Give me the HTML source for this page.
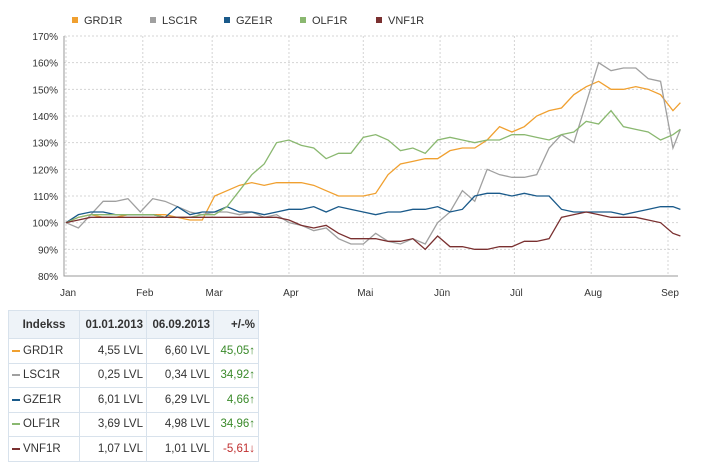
<!DOCTYPE html>
<html><head><meta charset="utf-8"><style>
body{margin:0;width:705px;height:468px;background:#fff;font-family:"Liberation Sans",sans-serif;overflow:hidden;position:relative}
svg{position:absolute;left:0;top:0}
table{position:absolute;left:8px;top:310px;border-collapse:collapse;font-size:11.5px;color:#333}
td,th{border:1px solid #d8e2ec;height:23.5px;padding:0 3px;text-align:right;white-space:nowrap}
th{background:#eef3f8;height:27px;font-weight:bold;color:#333}
td.n{text-align:left;padding-left:3px}
.dash{display:inline-block;width:8px;height:2px;vertical-align:middle;margin-right:3px}
.up{color:#3a8a2a}.dn{color:#c03030}
</style></head><body>
<svg id="chart" width="705" height="300"></svg>
<table>
<tr><th style="text-align:center;width:64px">Indekss</th><th style="width:60px">01.01.2013</th><th style="width:60px">06.09.2013</th><th style="width:38px">+/-%</th></tr>
<tr><td class="n"><span class="dash" style="background:#f0a030"></span>GRD1R</td><td>4,55 LVL</td><td>6,60 LVL</td><td class="up">45,05<b>&#8593;</b></td></tr>
<tr><td class="n"><span class="dash" style="background:#a0a0a0"></span>LSC1R</td><td>0,25 LVL</td><td>0,34 LVL</td><td class="up">34,92<b>&#8593;</b></td></tr>
<tr><td class="n"><span class="dash" style="background:#1a5a8a"></span>GZE1R</td><td>6,01 LVL</td><td>6,29 LVL</td><td class="up">4,66<b>&#8593;</b></td></tr>
<tr><td class="n"><span class="dash" style="background:#8ab870"></span>OLF1R</td><td>3,69 LVL</td><td>4,98 LVL</td><td class="up">34,96<b>&#8593;</b></td></tr>
<tr><td class="n"><span class="dash" style="background:#7a3030"></span>VNF1R</td><td>1,07 LVL</td><td>1,01 LVL</td><td class="dn">-5,61<b>&#8595;</b></td></tr>
</table>
<script>
const days=[0,5,10,15,20,25,30,35,40,45,50,55,60,65,70,75,80,85,90,95,100,105,110,115,120,125,130,135,140,145,150,155,160,165,170,175,180,185,190,195,200,205,210,215,220,225,230,235,240,245,248];
const grd=[100,102,103,102,102,103,103,103,103,102,101,101,110,112,114,115,114,115,115,115,114,112,110,110,110,111,118,122,123,124,124,127,128,128,131,136,134,136,140,142,143,148,151,153,150,150,151,150,148,142,145];
const lsc=[100,98,103,108,108,109,104,109,108,106,104,103,104,104,103,104,102,103,100,99,97,98,94,92,92,96,93,92,94,92,100,104,112,108,120,118,117,117,118,128,133,130,145,160,157,158,158,154,153,128,135];
const gze=[100,103,104,104,103,103,103,103,102,106,103,104,104,106,104,104,103,104,105,105,106,104,106,105,104,103,104,104,105,105,106,104,105,110,111,111,110,111,110,110,105,104,104,104,104,103,104,105,106,106,105];
const olf=[100,102,103,103,103,103,103,103,102,102,102,103,103,106,112,118,122,130,131,129,128,124,126,126,132,133,131,127,128,126,131,132,131,130,131,131,133,133,132,131,133,134,138,137,142,136,135,134,131,133,135];
const vnf=[100,101,102,102,102,102,102,102,102,102,102,102,102,102,102,102,102,102,101,99,98,99,96,94,94,94,93,93,94,90,95,91,91,90,90,91,91,93,93,94,102,103,104,103,102,102,102,101,100,96,95];
const yTicks=[80,90,100,110,120,130,140,150,160,170];
const months=["Jan","Feb","Mar","Apr","Mai","J\u016bn","J\u016bl","Aug","Sep"];
const monthDays=[0,31,59,90,120,151,181,212,243];
const names=["GRD1R","LSC1R","GZE1R","OLF1R","VNF1R"];
const colors=["#f0a030","#a0a0a0","#1a5a8a","#8ab870","#7a3030"];
const series=[grd,lsc,gze,olf,vnf];
const L=64,R=678,T=36,B=276;
const x=d=>66+d*602/243, y=v=>T+(170-v)*(B-T)/90;
const svg=document.getElementById('chart');const NS="http://www.w3.org/2000/svg";
function mk(t,a){const e=document.createElementNS(NS,t);for(const k in a)e.setAttribute(k,a[k]);svg.appendChild(e);return e;}
yTicks.forEach(v=>{const g=mk('line',{x1:L,x2:R,y1:y(v),y2:y(v),stroke:'#d4d4d4','stroke-dasharray':'2,2'});

const t=mk('text',{x:L-6,y:y(v)+4,'text-anchor':'end','font-size':10,fill:'#333'});t.textContent=v+'%';
});
monthDays.forEach((d,i)=>{const g=mk('line',{x1:x(d),x2:x(d),y1:T,y2:B,stroke:'#d4d4d4','stroke-dasharray':'2,2'});

const t=mk('text',{x:x(d)+2,y:B+20,'text-anchor':'middle','font-size':10,fill:'#333'});t.textContent=months[i];
});
const ax=mk('path',{d:`M${L} ${T}V${B}H${R}`,stroke:'#999',fill:'none'});

series.forEach((s,i)=>{const p=mk('polyline',{points:s.map((v,j)=>x(days[j])+','+y(v)).join(' '),fill:'none',stroke:colors[i],'stroke-width':1.3});
});
const lx=[72,150,224,300,376];
names.forEach((n,i)=>{const r=mk('rect',{x:lx[i],y:17,width:6,height:6,fill:colors[i]});

const t=mk('text',{x:lx[i]+12,y:24,'font-size':11,fill:'#333'});t.textContent=n;
});
</script>
</body></html>
